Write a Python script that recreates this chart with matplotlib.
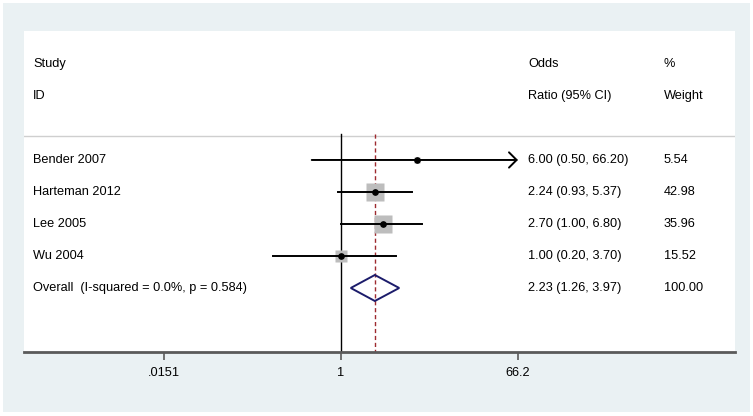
import numpy as np
import matplotlib
matplotlib.use("Agg")
import matplotlib.pyplot as plt
from matplotlib.patches import Rectangle, Polygon

plt.rcParams['font.family'] = ['Liberation Sans', 'DejaVu Sans']

# study data
studies = ["Bender 2007", "Harteman 2012", "Lee 2005", "Wu 2004"]
odds = [6.00, 2.24, 2.70, 1.00]
lower = [0.50, 0.93, 1.00, 0.20]
upper = [66.20, 5.37, 6.80, 3.70]
weights = [5.54, 42.98, 35.96, 15.52]

overall_label = "Overall  (I-squared = 0.0%, p = 0.584)"
overall_or = 2.23
overall_lo = 1.26
overall_hi = 3.97
overall_w = 100.00

tick_vals = [0.0151, 1, 66.2]
tick_labels = [".0151", "1", "66.2"]

fs = 9.2
W, H = 753, 416
fig = plt.figure(figsize=(W / 100, H / 100), dpi=100)
fig.patch.set_facecolor("white")
# light panel behind plot
fig.patches.append(Rectangle((3 / W, 1 - 412 / H), (750 - 3) / W, (412 - 3) / H,
                             transform=fig.transFigure, facecolor="#eaf1f3",
                             edgecolor="none", zorder=-5))

ax = fig.add_axes([24 / W, 1 - 352 / H, (735 - 24) / W, (352 - 31) / H])
ax.set_facecolor("white")
ax.set_xscale("log")
# 1 sits at pixel 341, 66.2 at 518
k = (518 - 341) / np.log(66.2)
ax.set_xlim(np.exp(-(341 - 24) / k), np.exp((735 - 341) / k))
ax.set_ylim(6.0, -4.03)

for s in ["top", "left", "right"]:
    ax.spines[s].set_visible(False)
ax.spines["bottom"].set_color("#5a5a5a")
ax.spines["bottom"].set_linewidth(2)
ax.set_yticks([])
ax.set_xticks(tick_vals)
ax.set_xticklabels(tick_labels, fontsize=fs)
ax.xaxis.set_minor_locator(matplotlib.ticker.NullLocator())
ax.tick_params(axis="x", length=6, width=1.2, color="#5a5a5a", pad=5)

# header separator
ax.axhline(-0.75, color="#cfcfcf", lw=1)

# null line and overall line
ax.plot([1, 1], [-0.8, 6.0], color="black", lw=1, zorder=2)
ax.plot([overall_or, overall_or], [-0.8, 6.0], color="#9e2a2f", lw=1.0,
        dashes=(3, 2), zorder=2)

colx1 = (33 - 24) / 711
colx2 = (528 - 24) / 711
colx3 = (664 - 24) / 711
tr = ax.get_yaxis_transform()

ax.text(colx1, -3, "Study", transform=tr, fontsize=fs, va="center")
ax.text(colx1, -2, "ID", transform=tr, fontsize=fs, va="center")
ax.text(colx2, -3, "Odds", transform=tr, fontsize=fs, va="center")
ax.text(colx2, -2, "Ratio (95% CI)", transform=tr, fontsize=fs, va="center")
ax.text(colx3, -3, "%", transform=tr, fontsize=fs, va="center")
ax.text(colx3, -2, "Weight", transform=tr, fontsize=fs, va="center")

xmax_plot = max(tick_vals)
for i in range(len(studies)):
    y = i
    if upper[i] >= xmax_plot:
        ax.annotate("", xy=(xmax_plot, y), xytext=(lower[i], y),
                    arrowprops=dict(arrowstyle="->,head_length=0.55,head_width=0.55",
                                    lw=1.4, color="black", shrinkA=0, shrinkB=0),
                    zorder=3)
    else:
        ax.plot([lower[i], upper[i]], [y, y], color="black", lw=1.4, zorder=3)
    size = 13.5 * np.sqrt(weights[i] / 42.98)
    ax.plot(odds[i], y, marker="s", markersize=size, color="#bdbdbd",
            markeredgecolor="none", zorder=2.5)
    ax.plot(odds[i], y, marker="o", markersize=3.8, color="black", zorder=4)
    ax.text(colx1, y, studies[i], transform=tr, fontsize=fs, va="center")
    ax.text(colx2, y, "%.2f (%.2f, %.2f)" % (odds[i], lower[i], upper[i]),
            transform=tr, fontsize=fs, va="center")
    ax.text(colx3, y, "%.2f" % weights[i], transform=tr, fontsize=fs, va="center")

yo = len(studies)
dh = 13 / 32
diamond = Polygon([(overall_lo, yo), (overall_or, yo - dh), (overall_hi, yo),
                   (overall_or, yo + dh)], closed=True, facecolor="none",
                  edgecolor="#1c1c6b", lw=1.4, zorder=3)
ax.add_patch(diamond)
ax.text(colx1, yo, overall_label, transform=tr, fontsize=fs, va="center")
ax.text(colx2, yo, "%.2f (%.2f, %.2f)" % (overall_or, overall_lo, overall_hi),
        transform=tr, fontsize=fs, va="center")
ax.text(colx3, yo, "%.2f" % overall_w, transform=tr, fontsize=fs, va="center")

fig.savefig("out.png", dpi=100)
